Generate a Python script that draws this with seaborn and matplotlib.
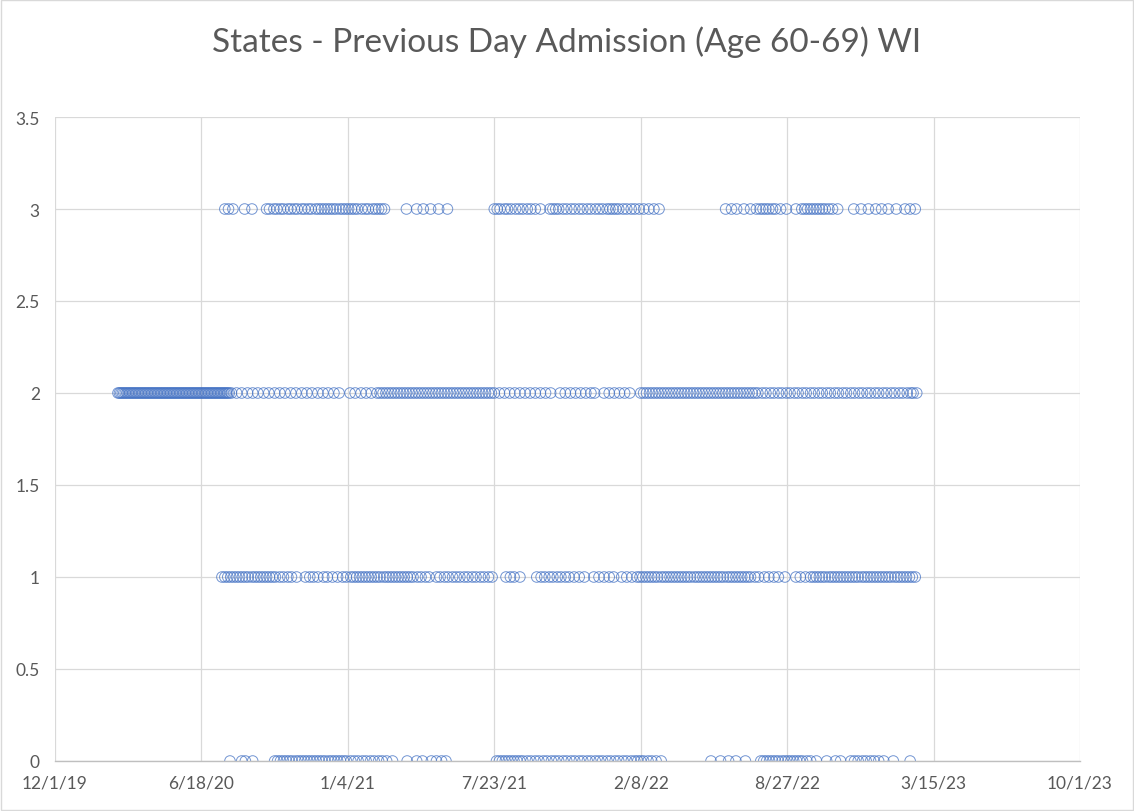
import pandas as pd
import numpy as np
import seaborn as sns
import matplotlib.pyplot as plt
from matplotlib.patches import Rectangle

# Values, as days since 12/1/19, one list per admission count
start_date = '2019-12-01'

days_0 = [239, 255, 260, 270, 300, 304, 308, 312, 316, 320, 324, 329, 333, 337, 341, 345,
          349, 353, 357, 361, 365, 369, 374, 378, 382, 386, 390, 394, 398, 404, 409, 414,
          420, 425, 431, 436, 442, 447, 453, 461, 481, 494, 502, 514, 521, 528, 534,
          603, 607, 611, 615, 619, 623, 627, 631, 635, 639, 645, 650, 656, 661, 667, 672,
          678, 683, 688, 694, 699, 705, 710, 716, 721, 727, 732, 738, 743, 748, 754, 759,
          765, 770, 776, 781, 787, 792, 796, 800, 804, 810, 815, 821, 828,
          896, 909, 920, 930, 943, 964, 968, 972, 976, 980, 984, 988, 993, 997, 1001, 1005,
          1009, 1013, 1017, 1021, 1027, 1032, 1040, 1054, 1066, 1073, 1087, 1092, 1097, 1103,
          1108, 1114, 1119, 1125, 1132, 1145, 1168]

days_1 = [228, 232, 236, 240, 244, 248, 252, 256, 260, 264, 269, 273, 277, 281, 285, 289,
          293, 297, 301, 307, 312, 318, 323, 330, 342, 348, 353, 359, 367, 372, 379, 386,
          393, 398, 404, 408, 412, 416, 420, 424, 428, 432, 436, 440, 444, 449, 453, 457,
          461, 465, 469, 473, 477, 481, 485, 489, 495, 500, 506, 511, 521, 526, 532, 537,
          543, 548, 553, 559, 564, 570, 575, 581, 586, 592, 597, 616, 622, 627, 635,
          658, 664, 669, 675, 680, 686, 691, 697, 702, 709, 716, 723, 736, 743, 750, 757,
          763, 774, 781, 788, 795, 799, 803, 807, 811, 815, 819, 823, 828, 832, 836, 840,
          844, 848, 852, 856, 860, 864, 868, 873, 877, 881, 885, 889, 893, 897, 901, 905,
          909, 913, 918, 922, 926, 930, 934, 938, 942, 946, 950, 956, 961, 969, 975, 982,
          988, 997, 1012, 1018, 1025, 1032, 1036, 1040, 1044, 1048, 1052, 1057, 1061, 1065,
          1069, 1073, 1077, 1081, 1085, 1089, 1093, 1097, 1102, 1106, 1110, 1114, 1118, 1122,
          1126, 1130, 1134, 1138, 1142, 1147, 1151, 1155, 1159, 1163, 1167, 1171, 1175]

days_2 = [86, 88, 90, 92, 94, 96, 98, 100, 102, 104, 106, 108, 110, 112, 114, 116, 118,
          120, 122, 124, 126, 128, 130, 132, 134, 136, 138, 140, 142, 144, 146, 148, 150,
          152, 154, 156, 158, 160, 162, 164, 166, 168, 170, 172, 174, 176, 178, 180, 182,
          184, 186, 188, 190, 192, 194, 196, 198, 200, 202, 204, 206, 208, 210, 212, 214,
          216, 218, 220, 222, 224, 226, 228, 230, 232, 234, 236, 238,
          241, 248, 255, 263, 270, 277, 285, 292, 300, 307, 314, 322, 329, 337, 344, 351,
          359, 366, 373, 381, 388, 403, 410, 418, 425, 432, 440,
          444, 448, 452, 456, 460, 464, 468, 472, 476, 480, 484, 488, 492, 496, 500, 504,
          508, 512, 516, 520, 524, 528, 532, 536, 540, 544, 548, 552, 556, 560, 564, 568,
          572, 576, 580, 584, 588, 592, 596, 600,
          607, 614, 621, 628, 635, 642, 649, 656, 663, 670, 677, 690, 697, 704, 711, 718,
          725, 732, 737, 750, 757, 764, 771, 778, 785,
          800, 804, 808, 812, 816, 820, 824, 828, 832, 836, 840, 844, 848, 852, 856, 860,
          864, 868, 872, 876, 880, 884, 888, 892, 896, 900, 904, 908, 912, 916, 920, 924,
          928, 932, 936, 940, 944, 948, 952, 956, 960,
          966, 971, 977, 982, 988, 993, 999, 1004, 1010, 1015, 1021, 1026, 1032, 1037, 1043,
          1048, 1054, 1059, 1065, 1070, 1076, 1081, 1087, 1092, 1098, 1103, 1109, 1114, 1120,
          1125, 1131, 1136, 1142, 1147, 1153, 1158, 1164, 1169, 1172, 1177]

days_3 = [232, 237, 243, 259, 269, 289, 293, 299, 303, 308, 312, 318, 322, 327, 331, 337,
          341, 346, 350, 356, 360, 364, 368, 372, 376, 380, 384, 389, 393, 397, 401, 405,
          409, 413, 419, 424, 428, 434, 438, 442, 446, 450, 480, 494, 503, 513, 524, 536,
          600, 604, 608, 614, 618, 623, 629, 634, 639, 645, 650, 656, 663, 676, 680, 684,
          688, 694, 699, 705, 710, 716, 721, 727, 732, 738, 743, 748, 754, 758, 762, 766,
          770, 776, 781, 787, 792, 798, 804, 811, 818, 825,
          916, 924, 931, 941, 950, 958, 963, 967, 971, 975, 980, 984, 991, 999, 1012, 1020,
          1024, 1028, 1032, 1036, 1040, 1044, 1048, 1052, 1057, 1062, 1069, 1091, 1101, 1111,
          1121, 1129, 1138, 1149, 1161, 1168, 1175]

x_tick_labels = ['12/1/19', '6/18/20', '1/4/21', '7/23/21', '2/8/22', '8/27/22', '3/15/23', '10/1/23']
y_ticks = [0, 0.5, 1, 1.5, 2, 2.5, 3, 3.5]
y_tick_labels = ['0', '0.5', '1', '1.5', '2', '2.5', '3', '3.5']

title = 'States - Previous Day Admission (Age 60-69) WI'

# Build one long table
base = pd.Timestamp(start_date)
frames = []
for value, days in [(0, days_0), (1, days_1), (2, days_2), (3, days_3)]:
    frames.append(pd.DataFrame({'date': base + pd.to_timedelta(days, unit='D'), 'admissions': value}))
df = pd.concat(frames, ignore_index=True)

sns.set_theme(style='white')
plt.rcParams['font.family'] = ['Lato', 'DejaVu Sans']

fig = plt.figure(figsize=(11.34, 8.12), dpi=100)
ax = fig.add_axes([55 / 1134, 50 / 812, 1025 / 1134, 644 / 812])

sns.scatterplot(data=df, x='date', y='admissions', ax=ax, marker='o', s=58,
                facecolors='none', edgecolor='#4472C4', linewidth=0.7, alpha=0.75)

x_ticks = pd.to_datetime(x_tick_labels, format='%m/%d/%y')
ax.set_xlim(x_ticks[0], x_ticks[-1])
ax.set_ylim(0, 3.5)
ax.set_xticks(x_ticks)
ax.set_xticklabels(x_tick_labels)
ax.set_yticks(y_ticks)
ax.set_yticklabels(y_tick_labels)
ax.tick_params(axis='both', length=0, labelsize=12.5, labelcolor='#595959')
ax.tick_params(axis='x', pad=10)
ax.tick_params(axis='y', pad=11)
ax.set_xlabel('')
ax.set_ylabel('')

ax.grid(True, color='#d9d9d9', linewidth=0.9)
ax.set_axisbelow(True)
for side in ['top', 'right', 'left']:
    ax.spines[side].set_visible(False)
ax.spines['bottom'].set_color('#bfbfbf')
ax.spines['bottom'].set_linewidth(1.0)

fig.text(0.5, 1 - 42 / 812, title, ha='center', va='center', fontsize=24, color='#595959')

# light chart-area border like the spreadsheet export
fig.patches.append(Rectangle((0.001, 0.001), 0.998, 0.998, transform=fig.transFigure,
                             fill=False, edgecolor='#d9d9d9', linewidth=1.0))

plt.savefig('out.png', dpi=100)
